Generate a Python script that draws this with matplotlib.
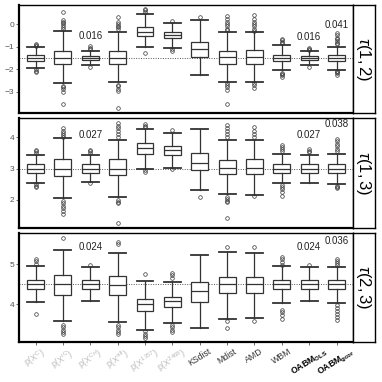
import matplotlib
import matplotlib.pyplot as plt

matplotlib.use("Agg")

plt.rcParams["font.family"] = ["Liberation Sans", "DejaVu Sans"]
plt.rcParams["mathtext.fontset"] = "custom"
plt.rcParams["mathtext.rm"] = "Liberation Sans"
plt.rcParams["mathtext.it"] = "Liberation Sans:italic"
plt.rcParams["mathtext.bf"] = "Liberation Sans:bold"

methods = [
    r"$\mathrm{p(X^{C})}$", r"$\mathrm{p(X^{iC})}$", r"$\mathrm{p(X^{Cn})}$",
    r"$\mathrm{p(X^{all})}$", r"$\mathrm{p(X^{1357})}$", r"$\mathrm{p(X^{2468})}$",
    "KSdist", "Mdist", "AMD", "WBM",
    r"$\mathbf{OABM}_{\mathbf{OLS}}$", r"$\mathbf{OABM}_{\mathbf{gcor}}$",
]
strip_labels = [r"$\tau(1,2)$", r"$\tau(1,3)$", r"$\tau(2,3)$"]
true_values = [-1.5, 3.0, 4.5]

# tau(1,2)
t12_med = [-1.50, -1.50, -1.50, -1.52, -0.34, -0.48, -1.10, -1.47, -1.47, -1.49, -1.50, -1.50]
t12_q1 = [-1.62, -1.76, -1.60, -1.76, -0.51, -0.63, -1.44, -1.78, -1.76, -1.62, -1.59, -1.62]
t12_q3 = [-1.37, -1.17, -1.39, -1.17, -0.12, -0.34, -0.78, -1.19, -1.13, -1.37, -1.41, -1.37]
t12_lo = [-1.95, -2.61, -1.83, -2.54, -1.00, -1.04, -2.25, -2.54, -2.54, -2.03, -1.80, -2.03]
t12_hi = [-1.03, -0.29, -1.17, -0.34, 0.43, 0.06, 0.18, -0.34, -0.37, -0.93, -1.19, -1.00]
t12_out = [
    [-0.88, -0.93, -0.97, -2.00, -2.06, -2.13],
    [0.54, 0.17, 0.10, 0.03, -0.05, -0.12, -0.20, -2.73, -2.80, -2.88, -2.98, -3.52],
    [-0.99, -1.04, -1.10, -1.88],
    [0.29, 0.08, 0.00, -0.08, -0.15, -0.22, -2.68, -2.75, -2.85, -2.95, -3.71],
    [0.66, 0.60, 0.55, -1.29],
    [0.15, -1.12, -1.20],
    [0.32],
    [0.35, 0.20, 0.10, 0.00, -0.10, -0.20, -0.28, -2.62, -2.70, -2.80, -2.90, -3.52],
    [0.38, 0.20, 0.10, 0.00, -0.10, -0.20, -0.30, -2.61, -2.70, -2.83],
    [-0.67, -0.72, -0.78, -0.85, -2.14, -2.20, -2.27, -2.35],
    [-1.07, -1.11, -1.15, -1.88],
    [-0.41, -0.50, -0.60, -0.68, -0.75, -0.82, -0.90, -2.06, -2.10, -2.16, -2.25],
]

# tau(1,3)
t13_med = [3.00, 3.00, 3.00, 2.98, 3.66, 3.59, 3.19, 3.03, 3.03, 3.00, 3.00, 3.00]
t13_q1 = [2.87, 2.76, 2.87, 2.78, 3.48, 3.43, 2.95, 2.81, 2.81, 2.87, 2.87, 2.87]
t13_q3 = [3.13, 3.30, 3.13, 3.30, 3.83, 3.72, 3.51, 3.27, 3.29, 3.13, 3.13, 3.13]
t13_lo = [2.55, 2.04, 2.57, 2.09, 3.00, 3.02, 2.30, 2.17, 2.15, 2.52, 2.55, 2.49]
t13_hi = [3.45, 3.98, 3.45, 3.93, 4.28, 4.15, 4.28, 3.91, 3.93, 3.48, 3.45, 3.48]
t13_out = [
    [3.59, 3.55, 3.51, 2.49, 2.45, 2.41],
    [4.30, 4.22, 4.15, 4.08, 4.01, 1.95, 1.88, 1.80, 1.72, 1.64, 1.53],
    [3.61, 3.56, 3.51, 2.52],
    [4.45, 4.38, 4.30, 4.20, 4.10, 4.01, 1.99, 1.94, 1.90, 1.26],
    [4.44, 4.38, 4.33, 2.95, 2.90],
    [4.23, 2.97],
    [2.09],
    [4.39, 4.30, 4.20, 4.10, 4.00, 2.09, 2.03, 1.97, 1.93, 1.40],
    [4.33, 4.20, 4.10, 4.00, 2.12],
    [3.75, 3.68, 3.62, 3.55, 2.47, 2.40, 2.33, 2.25, 2.12],
    [3.62, 3.57, 3.52],
    [3.96, 3.88, 3.80, 3.72, 3.64, 3.57, 2.45, 2.41, 2.38],
]

# tau(2,3)
t23_med = [4.50, 4.50, 4.50, 4.48, 4.01, 4.07, 4.33, 4.50, 4.50, 4.50, 4.50, 4.50]
t23_q1 = [4.38, 4.23, 4.38, 4.23, 3.82, 3.92, 4.05, 4.27, 4.27, 4.38, 4.38, 4.38]
t23_q3 = [4.61, 4.73, 4.61, 4.71, 4.13, 4.19, 4.55, 4.69, 4.69, 4.61, 4.61, 4.61]
t23_lo = [4.05, 3.57, 4.07, 3.55, 3.36, 3.54, 3.40, 3.63, 3.65, 4.03, 4.07, 4.03]
t23_hi = [4.96, 5.36, 4.92, 5.29, 4.59, 4.55, 5.22, 5.30, 5.29, 4.96, 4.93, 4.93]
t23_out = [
    [5.13, 5.08, 5.01, 3.76],
    [5.65, 3.48, 3.42, 3.36, 3.30, 3.26],
    [4.97],
    [5.56, 5.50, 3.48, 3.42, 3.36, 3.30, 3.25],
    [4.75, 3.32, 3.26, 3.20, 3.15],
    [4.78, 4.72, 4.65, 3.48, 3.42, 3.36, 3.30],
    [],
    [5.43, 3.58, 3.40],
    [5.43, 3.58],
    [5.19, 5.13, 5.06, 4.98, 3.86, 3.80, 3.72, 3.62],
    [4.97],
    [5.13, 5.08, 5.03, 4.98, 3.98, 3.90, 3.82, 3.75, 3.68, 3.61],
]

# annotations: (box index, y, text)
t12_notes = [(3, -0.53, "0.016"), (11, -0.57, "0.016"), (12, -0.04, "0.041")]
t13_notes = [(3, 4.09, "0.027"), (11, 4.09, "0.027"), (12, 4.42, "0.038")]
t23_notes = [(3, 5.42, "0.024"), (11, 5.42, "0.024"), (12, 5.58, "0.036")]

panels = [
    (t12_med, t12_q1, t12_q3, t12_lo, t12_hi, t12_out, t12_notes, (-3.93, 0.84), [-3, -2, -1, 0]),
    (t13_med, t13_q1, t13_q3, t13_lo, t13_hi, t13_out, t13_notes, (1.09, 4.62), [2, 3, 4]),
    (t23_med, t23_q1, t23_q3, t23_lo, t23_hi, t23_out, t23_notes, (3.06, 5.78), [4, 5]),
]

# axes rectangles in figure fraction (left, bottom, width, height)
panel_rects = [
    (0.050, 0.704, 0.874, 0.283),
    (0.050, 0.403, 0.874, 0.288),
    (0.050, 0.105, 0.874, 0.285),
]
line_col = "#333333"

fig = plt.figure(figsize=(3.82, 3.82), dpi=100)
positions = list(range(1, len(methods) + 1))

for i, (med, q1, q3, lo, hi, out, notes, ylim, yticks) in enumerate(panels):
    left, bottom, width, height = panel_rects[i]
    ax = fig.add_axes([left, bottom, width, height])
    stats = [
        dict(med=med[k], q1=q1[k], q3=q3[k], whislo=lo[k], whishi=hi[k], fliers=out[k])
        for k in range(len(methods))
    ]
    ax.axhline(true_values[i], color="#555555", ls=(0, (1, 1.5)), lw=0.7, zorder=1)
    ax.bxp(
        stats, positions=positions, widths=0.62, capwidths=0.62,
        patch_artist=True, showfliers=True,
        boxprops=dict(facecolor="white", edgecolor=line_col, lw=0.9),
        medianprops=dict(color=line_col, lw=0.9),
        whiskerprops=dict(color=line_col, lw=0.9),
        capprops=dict(color=line_col, lw=1.3),
        flierprops=dict(marker="o", markersize=2.6, markerfacecolor="none",
                        markeredgecolor=line_col, markeredgewidth=0.5),
        zorder=2,
    )
    for idx, y, txt in notes:
        ax.text(idx, y, txt, ha="center", va="center", fontsize=7, color="#222222")

    ax.set_xlim(0.4, 12.6)
    ax.set_ylim(*ylim)
    ax.set_yticks(yticks)
    ax.tick_params(axis="y", labelsize=6, colors="#555555", length=2, width=0.6, pad=1.5)
    for side in ["left", "bottom"]:
        ax.spines[side].set_linewidth(1.6)
    for side in ["top", "right"]:
        ax.spines[side].set_linewidth(1.0)

    ax.set_xticks(positions)
    if i < 2:
        ax.tick_params(axis="x", length=0, labelbottom=False)
    else:
        ax.set_xticklabels(methods, rotation=32, ha="center", va="top", fontsize=6.3)
        ax.tick_params(axis="x", length=2, width=0.6, colors="#555555", pad=1.5)
        for k, lab in enumerate(ax.get_xticklabels()):
            if k < 6:
                lab.set_color("#bbbbbb")
            elif k < 10:
                lab.set_color("#333333")
            else:
                lab.set_color("black")

    # strip on the right
    sax = fig.add_axes([left + width, bottom, 0.0576, height])
    sax.set_xticks([])
    sax.set_yticks([])
    for side in sax.spines.values():
        side.set_linewidth(1.0)
    sax.text(0.5, 0.5, strip_labels[i], rotation=270, ha="center", va="center",
             fontsize=12, transform=sax.transAxes)

fig.savefig("out.png", dpi=100)
plt.close(fig)
